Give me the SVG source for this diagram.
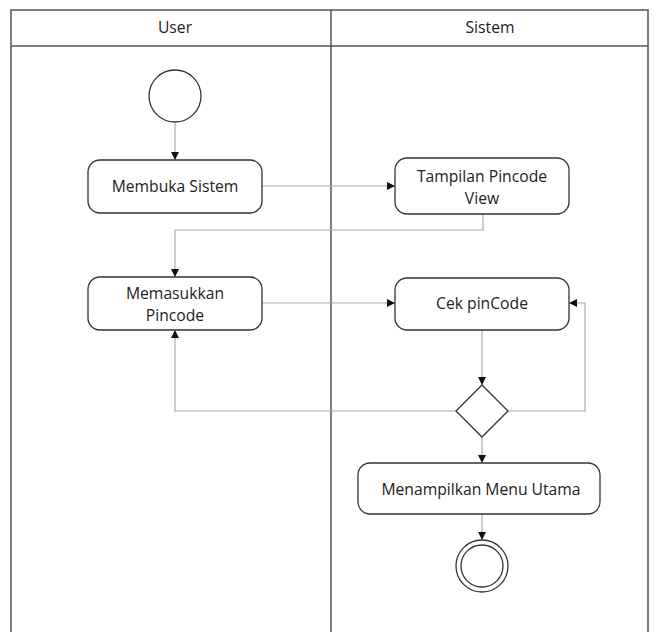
<svg xmlns="http://www.w3.org/2000/svg" width="659" height="632" viewBox="0 0 659 632">
  <style>
    .lane { fill: none; stroke: #555; stroke-width: 1.5; }
    .node { fill: #fff; stroke: #333; stroke-width: 1.3; }
    .flow { fill: none; stroke: #aaa; stroke-width: 1.2; }
    .lbl { font-family: "Open Sans", "Liberation Sans", sans-serif; font-size: 15.7px; fill: #222; text-anchor: middle; }
  </style>
  <defs>
    <marker id="arrow" viewBox="0 0 10 10" refX="10" refY="5" markerWidth="8" markerHeight="8" markerUnits="userSpaceOnUse" orient="auto">
      <path d="M0,0 L10,5 L0,10 Z" fill="#111"/>
    </marker>
  </defs>
  <rect width="659" height="632" fill="#fff"/>

  <!-- swimlanes -->
  <g id="lanes">
    <path class="lane" d="M11,632 V10 H648 V632 M11,46 H648 M331,10 V632"/>
    <text class="lbl" x="175" y="33">User</text>
    <text class="lbl" x="490" y="33">Sistem</text>
  </g>

  <!-- connectors -->
  <g id="connectors">
    <path class="flow" d="M175,122 V160" marker-end="url(#arrow)"/>
    <path class="flow" d="M262,186 H395" marker-end="url(#arrow)"/>
    <path class="flow" d="M483,214 V230 H175 V277" marker-end="url(#arrow)"/>
    <path class="flow" d="M262,303 H395" marker-end="url(#arrow)"/>
    <path class="flow" d="M482,330 V385" marker-end="url(#arrow)"/>
    <path class="flow" d="M456,411 H175 V330" marker-end="url(#arrow)"/>
    <path class="flow" d="M508,411 H585 V303 H569" marker-end="url(#arrow)"/>
    <path class="flow" d="M482,437 V463" marker-end="url(#arrow)"/>
    <path class="flow" d="M482,514 V540" marker-end="url(#arrow)"/>
  </g>

  <g id="start">
    <circle class="node" cx="175" cy="96" r="26"/>
  </g>
  <g id="membuka-sistem">
    <rect class="node" x="88" y="160" width="174" height="53" rx="12"/>
    <text class="lbl" x="175" y="192">Membuka Sistem</text>
  </g>
  <g id="tampilan-pincode">
    <rect class="node" x="395" y="158" width="174" height="56" rx="12"/>
    <text class="lbl" x="482" y="182">Tampilan Pincode</text>
    <text class="lbl" x="482" y="204">View</text>
  </g>
  <g id="memasukkan-pincode">
    <rect class="node" x="88" y="277" width="174" height="53" rx="12"/>
    <text class="lbl" x="175" y="299">Memasukkan</text>
    <text class="lbl" x="175" y="321">Pincode</text>
  </g>
  <g id="cek-pincode">
    <rect class="node" x="395" y="278" width="174" height="52" rx="12"/>
    <text class="lbl" x="482" y="309">Cek pinCode</text>
  </g>
  <g id="decision">
    <path class="node" d="M482,385 L508,411 L482,437 L456,411 Z"/>
  </g>
  <g id="menu-utama">
    <rect class="node" x="358" y="463" width="242" height="51" rx="12"/>
    <text class="lbl" x="481" y="495">Menampilkan Menu Utama</text>
  </g>
  <g id="end">
    <circle class="node" cx="482" cy="566" r="26"/>
    <circle class="node" cx="482" cy="566" r="21"/>
  </g>
</svg>
